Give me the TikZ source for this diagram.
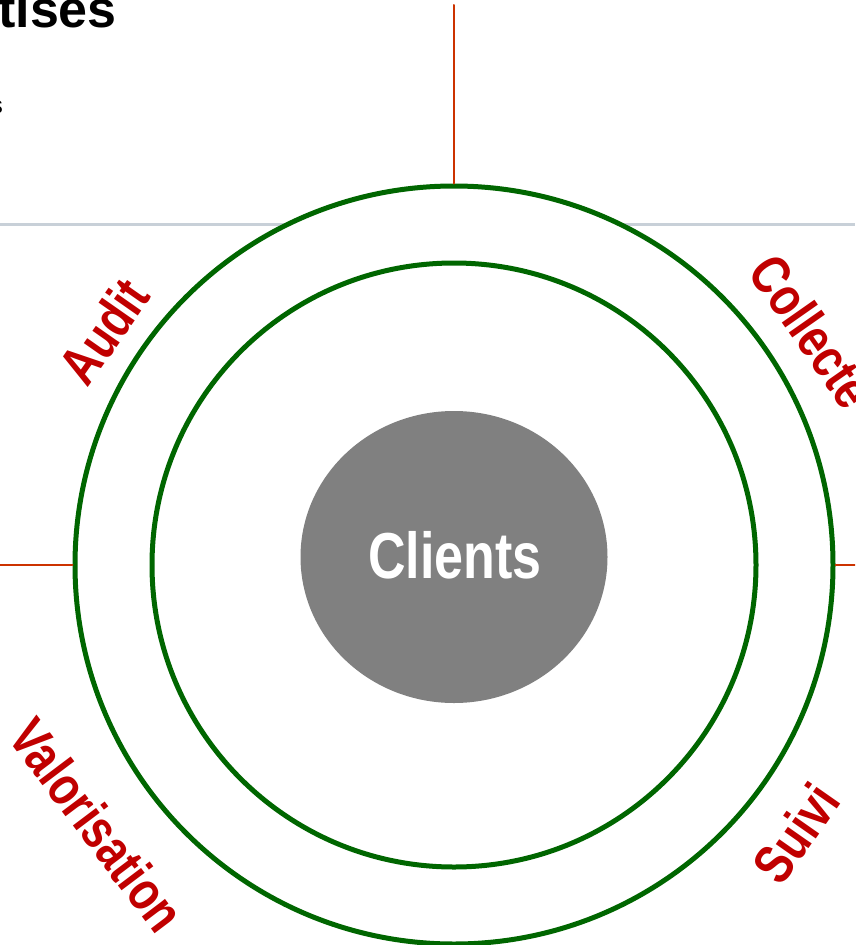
\documentclass[tikz,border=0pt]{standalone}
\usepackage{fontspec}
\setmainfont{Liberation Sans}
\newfontfamily\narrowfont[FakeStretch=0.8]{Liberation Sans}
\usepackage{tikz}
\usetikzlibrary{shapes.geometric}
\definecolor{ringgreen}{RGB}{0,102,0}
\definecolor{axisred}{RGB}{204,51,0}
\definecolor{labelred}{RGB}{192,0,0}
\definecolor{rulegray}{RGB}{200,208,216}
\definecolor{coregray}{RGB}{128,128,128}
\tikzset{
  ring/.style={circle,draw=ringgreen,line width=5,fill=white,inner sep=0},
  axis/.style={draw=axisred,line width=2},
  stage/.style={text=labelred,inner sep=0,font=\narrowfont\bfseries\fontsize{55}{55}\selectfont}
}
\begin{document}
\begin{tikzpicture}[line cap=round,line join=round,x=1pt,y=-1pt]
\clip(0,0) rectangle (855,945);
\useasboundingbox (0,0) rectangle (855,945);
\node[anchor=base east,inner sep=0,font=\bfseries\fontsize{52}{52}\selectfont] (title) at (117,27) {tises};
\node[anchor=base east,inner sep=0,font=\fontsize{24}{24}\selectfont] (subtitle) at (3,113) {s};
\coordinate (ruleL) at (0,224);
\coordinate (ruleR) at (855,224);
\draw[rulegray,line width=3,line cap=butt] (ruleL)-- (ruleR);
\coordinate (axisT) at (454,5);
\coordinate (axisL) at (0,565);
\coordinate (axisR) at (855,565);
\node[ring,minimum size=758] (outer) at (454,565) {};
\node[ring,minimum size=604] (inner) at (454,565) {};
\draw[axis] (axisT)-- (outer.north);
\draw[axis] (axisL)-- (outer.west);
\draw[axis] (outer.east)-- (axisR);
\node[ellipse,fill=coregray,minimum width=307,minimum height=292,inner sep=0] (core) at (454,557) {};
\node[text=white,font=\narrowfont\bfseries\fontsize{65}{65}\selectfont] (clients) at (455,555) {Clients};
\node[stage,rotate=55] (audit) at (104,331) {Audit};
\node[stage,rotate=-55] (collecte) at (812,331) {Collecte};
\node[stage,rotate=-53] (valo) at (97,825) {Valorisation};
\node[stage,rotate=55] (suivi) at (796,833) {Suivi};
\end{tikzpicture}
\end{document}
